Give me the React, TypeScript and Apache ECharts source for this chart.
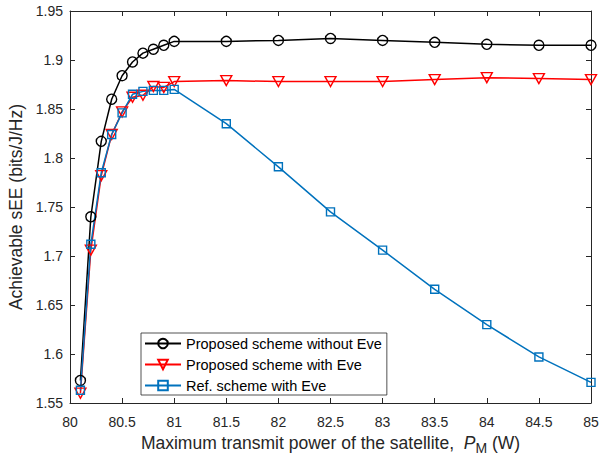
import React, { useEffect, useRef } from "react";
import * as echarts from "echarts";

const xValues = [80.1, 80.2, 80.3, 80.4, 80.5, 80.6, 80.7, 80.8, 80.9, 81, 81.5, 82, 82.5, 83, 83.5, 84, 84.5, 85];
const withoutEve = [1.573, 1.740, 1.817, 1.860, 1.884, 1.898, 1.907, 1.911, 1.915, 1.919, 1.919, 1.920, 1.922, 1.920, 1.918, 1.916, 1.915, 1.915];
const withEve = [1.560, 1.706, 1.782, 1.824, 1.847, 1.862, 1.864, 1.873, 1.872, 1.878, 1.879, 1.878, 1.878, 1.878, 1.880, 1.882, 1.881, 1.880];
const refWithEve = [1.563, 1.712, 1.785, 1.824, 1.846, 1.865, 1.868, 1.869, 1.869, 1.870, 1.835, 1.791, 1.745, 1.706, 1.666, 1.630, 1.597, 1.571];
const seriesNames = ["Proposed scheme without Eve", "Proposed scheme with Eve", "Ref. scheme with Eve"];
const xAxisTitle = "{a|Maximum transmit power of the satellite,  }{i|P}{s|M}{a| (W)}";
const yAxisTitle = "Achievable sEE (bits/J/Hz)";

export default function App() {
  const ref = useRef<HTMLDivElement>(null);
  useEffect(() => {
    const chart = echarts.init(ref.current!, null, { renderer: "svg" });
    const font = "'Liberation Sans', Arial, Helvetica, sans-serif";
    const axisColor = "#262626";
    const pair = (ys: number[]) => xValues.map((x, i) => [x, ys[i]]);
    const axisLine = { show: true, onZero: false, lineStyle: { color: axisColor, width: 1 } };
    const axisTick = { show: true, inside: true, length: 5, lineStyle: { color: axisColor, width: 1 } };
    const xBase = { type: "value", min: 80, max: 85, interval: 0.5, axisLine, axisTick, splitLine: { show: false } };
    const yBase = { type: "value", min: 1.55, max: 1.95, interval: 0.05, axisLine, axisTick, splitLine: { show: false } };
    const mk = (name: string, ys: number[], color: string, symbol: string, size: any, rotate = 0) => ({
      name,
      type: "line",
      data: pair(ys),
      symbol,
      symbolSize: size,
      symbolRotate: rotate,
      showAllSymbol: true,
      lineStyle: { color, width: 1.5 },
      itemStyle: { color: "rgba(255,255,255,0)", borderColor: color, borderWidth: 1.4 },
      emphasis: { disabled: true },
    });
    chart.setOption({
      animation: false,
      backgroundColor: "#ffffff",
      textStyle: { fontFamily: font },
      grid: { left: 70, right: 19, top: 11, bottom: 51, containLabel: false, outerBoundsMode: "none" },
      xAxis: [
        {
          ...xBase,
          position: "bottom",
          axisLabel: { color: axisColor, fontSize: 14, margin: 12, fontFamily: font },
          name: xAxisTitle,
          nameLocation: "middle",
          nameGap: 18,
          nameTextStyle: {
            fontFamily: font,
            rich: {
              a: { fontSize: 17.5, color: "#262626", fontFamily: font, lineHeight: 24 },
              i: { fontSize: 17.5, color: "#262626", fontStyle: "italic", fontFamily: font, lineHeight: 24 },
              s: { fontSize: 14, color: "#262626", fontFamily: font, verticalAlign: "bottom", lineHeight: 24 },
            },
          },
        },
        { ...xBase, position: "top", axisLabel: { show: false } },
      ],
      yAxis: [
        {
          ...yBase,
          position: "left",
          axisLabel: { color: axisColor, fontSize: 14, margin: 7, fontFamily: font },
          name: yAxisTitle,
          nameLocation: "middle",
          nameGap: 41,
          nameTextStyle: { fontSize: 17.5, color: "#262626", fontFamily: font },
        },
        { ...yBase, position: "right", axisLabel: { show: false } },
      ],
      legend: {
        orient: "vertical",
        left: 141,
        top: 333,
        padding: [3, 5, 2, 3],
        itemGap: 6,
        itemWidth: 36,
        itemHeight: 12,
        backgroundColor: "#ffffff",
        borderColor: axisColor,
        borderWidth: 0.8,
        borderRadius: 0,
        textStyle: { fontSize: 14.5, color: "#000000", fontFamily: font },
        data: seriesNames,
      },
      series: [
        mk(seriesNames[0], withoutEve, "#000000", "circle", 10),
        mk(seriesNames[1], withEve, "#ff0000", "triangle", [11, 10], 180),
        mk(seriesNames[2], refWithEve, "#0072bd", "rect", 8),
      ],
    });
    return () => chart.dispose();
  }, []);
  return <div ref={ref} style={{ position: "absolute", left: 0, top: 0, width: 610, height: 454 }} />;
}
